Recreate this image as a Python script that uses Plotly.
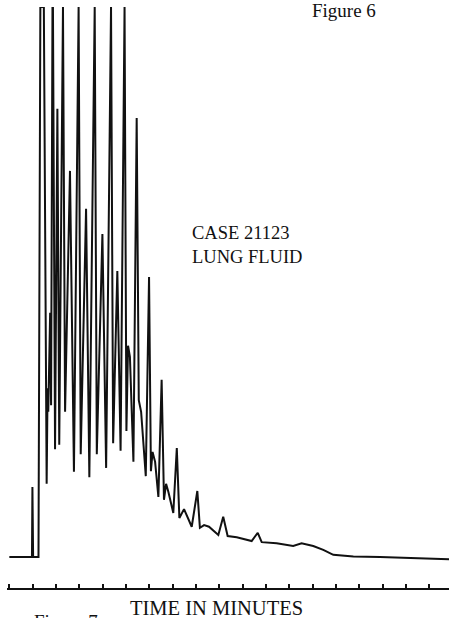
import plotly.graph_objects as go

# Gas chromatogram trace: detector response (% of full scale) vs retention time (minutes).
# Off-scale peaks are recorded at the pen limit (100 %).
time_min = [
    0.00, 0.97, 0.99, 1.02, 1.25, 1.33, 1.48, 1.60, 1.64, 1.67,
    1.75, 1.79, 1.85, 1.87, 1.96, 2.06, 2.14, 2.28, 2.30, 2.39,
    2.60, 2.77, 2.94, 2.97, 3.06, 3.29, 3.43, 3.63, 3.66, 3.75,
    3.99, 4.15, 4.33, 4.36, 4.45, 4.63, 4.77, 4.92, 4.94, 5.02,
    5.09, 5.17, 5.32, 5.46, 5.55, 5.65, 5.85, 5.99, 6.07, 6.14,
    6.25, 6.39, 6.53, 6.63, 6.72, 6.82, 7.03, 7.18, 7.29, 7.49,
    7.82, 8.06, 8.17, 8.35, 8.56, 8.96, 9.17, 9.36, 9.75, 10.39,
    10.65, 10.82, 11.46, 12.17, 12.53, 13.03, 13.46, 13.89, 14.75, 15.89,
    17.32, 18.85,
]
signal_pct = [
    0.0, 0.0, 12.7, 0.0, 0.0, 100.0, 100.0, 13.3, 30.7, 26.4,
    44.4, 27.6, 100.0, 100.0, 19.6, 81.5, 20.4, 100.0, 100.0, 26.4,
    70.2, 15.5, 100.0, 100.0, 18.7, 63.3, 14.5, 100.0, 100.0, 18.7,
    58.7, 16.2, 100.0, 100.0, 20.7, 52.0, 19.3, 100.0, 100.0, 22.9,
    38.4, 36.4, 17.3, 79.8, 28.5, 26.4, 14.7, 50.9, 15.6, 19.1,
    17.3, 10.9, 32.2, 10.4, 13.3, 11.8, 8.0, 19.8, 7.1, 8.7,
    5.5, 12.0, 5.3, 5.8, 5.5, 4.0, 7.3, 3.8, 3.6, 2.9,
    4.4, 2.7, 2.5, 2.0, 2.5, 2.0, 1.3, 0.4, 0.1, 0.0,
    -0.2, -0.4,
]

sample_label = ["CASE 21123", "LUNG FLUID"]
axis_title = "TIME IN MINUTES"
figure_labels = ["Figure 6", "Figure 7"]

SERIF = "Liberation Serif, Times New Roman, serif"
INK = "#111111"

fig = go.Figure()
fig.add_trace(go.Scatter(
    x=time_min, y=signal_pct, mode="lines",
    line=dict(color=INK, width=2.0),
    hoverinfo="skip", showlegend=False,
))

fig.update_layout(
    width=449, height=618,
    margin=dict(l=7, r=0, t=7, b=30),
    paper_bgcolor="white", plot_bgcolor="white",
    xaxis=dict(
        range=[-0.1, 18.85], showgrid=False, zeroline=False,
        showline=True, linecolor=INK, linewidth=1.6,
        ticks="inside", ticklen=4, tickwidth=1.5, tickcolor=INK,
        tick0=0, dtick=1, showticklabels=False,
    ),
    yaxis=dict(
        range=[-5.64, 100.0], visible=False, showgrid=False, zeroline=False,
    ),
    annotations=[
        dict(text=sample_label[0], xref="paper", yref="paper", x=0.415, y=0.611,
             xanchor="left", yanchor="middle", showarrow=False,
             font=dict(family=SERIF, size=18.5, color=INK)),
        dict(text=sample_label[1], xref="paper", yref="paper", x=0.415, y=0.569,
             xanchor="left", yanchor="middle", showarrow=False,
             font=dict(family=SERIF, size=18.5, color=INK)),
        dict(text=axis_title, xref="paper", yref="paper", x=0.475, y=-0.0336,
             xanchor="center", yanchor="middle", showarrow=False,
             font=dict(family=SERIF, size=20.5, color=INK)),
        dict(text=figure_labels[0], xref="paper", yref="paper", x=0.686, y=0.9948,
             xanchor="left", yanchor="middle", showarrow=False,
             font=dict(family=SERIF, size=19, color=INK)),
        dict(text=figure_labels[1], xref="paper", yref="paper", x=0.0559, y=-0.0568,
             xanchor="left", yanchor="middle", showarrow=False,
             font=dict(family=SERIF, size=19, color=INK)),
    ],
)

fig.write_html("out.html")
